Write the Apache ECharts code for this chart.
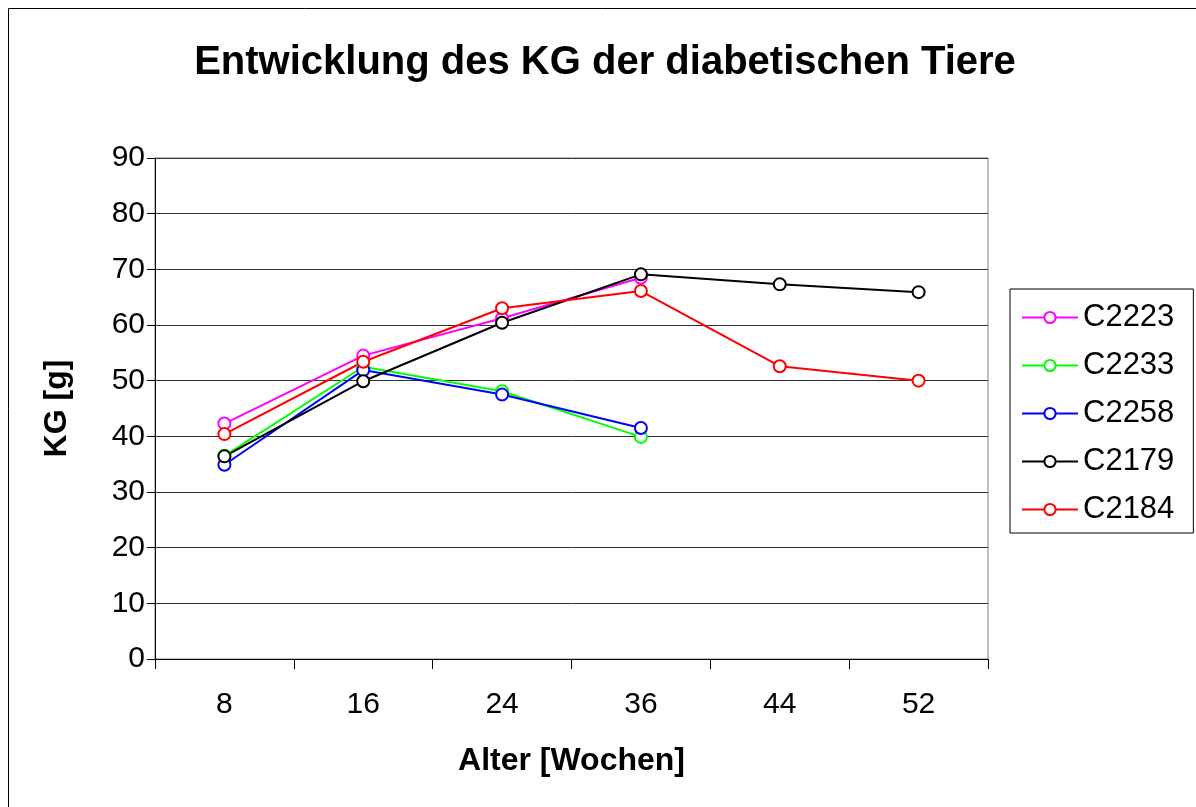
<!DOCTYPE html>
<html>
<head>
<meta charset="utf-8">
<script src="https://cdn.jsdelivr.net/npm/echarts@6/dist/echarts.min.js"></script>
<style>
html,body{margin:0;padding:0;background:#fff;}
#c{width:1196px;height:807px;}
</style>
</head>
<body>
<div id="c"></div>
<script>
const categories = ['8', '16', '24', '36', '44', '52'];
const seriesNames = ['C2223', 'C2233', 'C2258', 'C2179', 'C2184'];
const C2223 = [42.3, 54.5, 61.2, 68.5, null, null];
const C2233 = [36.5, 52.5, 48.1, 39.9, null, null];
const C2258 = [34.9, 51.9, 47.5, 41.5, null, null];
const C2179 = [36.4, 49.9, 60.4, 69.1, 67.3, 65.9];
const C2184 = [40.4, 53.4, 63.0, 66.1, 52.6, 50.0];
const colors = ['#FF00FF', '#00FF00', '#0000FF', '#000000', '#FF0000'];
const values = [C2223, C2233, C2258, C2179, C2184];

const FONT = '"Liberation Sans", Arial, sans-serif';
const chart = echarts.init(document.getElementById('c'), null, {renderer: 'canvas'});
chart.setOption({
  animation: false,
  backgroundColor: '#fff',
  textStyle: {fontFamily: FONT},
  graphic: [{
    type: 'rect', z: -10, silent: true,
    shape: {x: 8.5, y: 8.5, width: 1200, height: 900},
    style: {fill: 'none', stroke: '#000', lineWidth: 1}
  }],
  title: {
    text: 'Entwicklung des KG der diabetischen Tiere',
    left: 605, textAlign: 'center', top: 43, padding: 0,
    textStyle: {fontFamily: FONT, fontSize: 40, fontWeight: 'bold', color: '#000'}
  },
  legend: {
    orient: 'vertical',
    left: 1010, top: 289,
    padding: [13, 19, 8, 11],
    itemWidth: 56, itemHeight: 14, itemGap: 17,
    borderColor: '#000', borderWidth: 1,
    backgroundColor: '#fff',
    textStyle: {fontFamily: FONT, fontSize: 31, color: '#000'},
    data: seriesNames
  },
  grid: {
    left: 155, right: 208, top: 158, bottom: 148,
    show: true, borderColor: '#808080', borderWidth: 1,
    containLabel: false
  },
  xAxis: {
    type: 'category',
    data: categories,
    boundaryGap: true,
    name: 'Alter [Wochen]',
    nameLocation: 'middle',
    nameGap: 86,
    nameTextStyle: {fontFamily: FONT, fontSize: 32, fontWeight: 'bold', color: '#000'},
    axisLine: {show: true, lineStyle: {color: '#000', width: 1}},
    axisTick: {show: true, inside: false, length: 10, alignWithLabel: false, lineStyle: {color: '#000'}},
    axisLabel: {fontFamily: FONT, fontSize: 30, color: '#000', margin: 31},
    splitLine: {show: false}
  },
  yAxis: {
    type: 'value',
    min: 0, max: 90, interval: 10,
    name: 'KG [g]',
    nameLocation: 'middle',
    nameRotate: 90,
    nameGap: 82,
    nameTextStyle: {fontFamily: FONT, fontSize: 32, fontWeight: 'bold', color: '#000'},
    axisLine: {show: true, lineStyle: {color: '#000', width: 1}},
    axisTick: {show: true, inside: false, length: 8, lineStyle: {color: '#000'}},
    axisLabel: {fontFamily: FONT, fontSize: 30, color: '#000', margin: 10},
    splitLine: {show: true, lineStyle: {color: '#333', width: 1}}
  },
  series: seriesNames.map((n, i) => ({
    name: n,
    type: 'line',
    data: values[i],
    connectNulls: false,
    symbol: 'emptyCircle',
    symbolSize: 12,
    color: colors[i],
    lineStyle: {color: colors[i], width: 2},
    itemStyle: {color: colors[i], borderColor: colors[i], borderWidth: 2}
  }))
});
</script>
</body>
</html>
